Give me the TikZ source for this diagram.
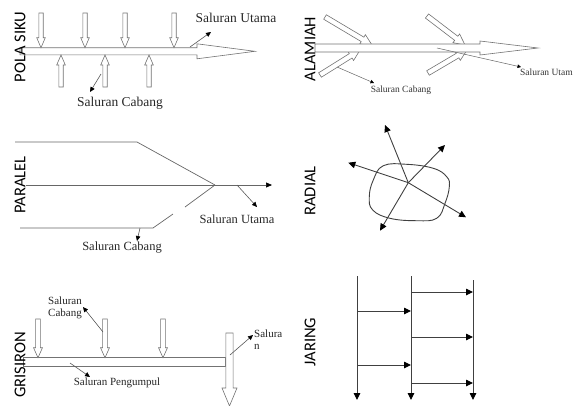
\documentclass[tikz,border=0pt]{standalone}
\usepackage{fontspec}
\setmainfont{Liberation Serif}
\newfontfamily\sidefont{Carlito}
\usetikzlibrary{calc,arrows.meta}

\tikzset{
  chan/.style={draw=black!55, line width=0.6pt, fill=white, line join=miter},
  pipe/.style={draw=black!60, line width=0.7pt},
  radline/.style={draw=black!75, line width=0.9pt},
  ptr/.style={draw=black!65, line width=0.6pt, -{Triangle[length=5pt,width=4.5pt,color=black]}},
  smallptr/.style={draw=black!60, line width=0.5pt, -{Triangle[length=3.5pt,width=3.5pt,color=black]}},
  flow/.style={radline, -{Triangle[length=7pt,width=6.5pt,color=black]}},
  side/.style={font=\sidefont\fontsize{16.5}{16.5}\selectfont, rotate=90, inner sep=0pt},
  lblbig/.style={font=\fontsize{13.5}{14}\selectfont, inner sep=0pt, text=black!85},
  lblmid/.style={font=\fontsize{12.5}{13}\selectfont, inner sep=0pt, text=black!85},
  lblsml/.style={font=\fontsize{11}{12}\selectfont, inner sep=0pt, text=black!85, align=left},
  lbltiny/.style={font=\fontsize{9.5}{10}\selectfont, inner sep=0pt, text=black!80},
}

% hollow block arrow: from, to, shaft half width, head half width, head length
\newcommand\harrow[5]{%
  \coordinate (ha0) at (#1);
  \coordinate (ha1) at (#2);
  \coordinate (hab) at ($(ha1)!#5!(ha0)$);
  \draw[chan] ($(ha0)!#3!90:(ha1)$) -- ($(hab)!#3!-90:(ha0)$)
    -- ($(hab)!#4!-90:(ha0)$) -- (ha1) -- ($(hab)!#4!90:(ha0)$)
    -- ($(hab)!#3!90:(ha0)$) -- ($(ha0)!#3!-90:(ha1)$) -- cycle;
}

\begin{document}
\begin{tikzpicture}[x=1pt,y=-1pt]
\useasboundingbox (0,0) rectangle (575,405);

% ---------------- POLA SIKU ----------------
\harrow{20,51.3}{255,51.3}{3.6pt}{7.5pt}{58pt}
\foreach \x in {41,85,125,174} { \harrow{\x,13}{\x,47.7}{2.2pt}{4.3pt}{10pt} }
\foreach \x in {61,105,149} { \harrow{\x,87}{\x,55}{2.2pt}{4.3pt}{10pt} }
\node[side] (lsiku) at (20,47) {POLA SIKU};
\node[lblbig] (utama1) at (236,18) {Saluran Utama};
\node[lblbig] (cabang1) at (120,103) {Saluran Cabang};
\coordinate (u1a) at (190,47);
\coordinate (u1b) at (211,32);
\draw[ptr] (u1a) -- (u1b);
\coordinate (c1a) at (101,74);
\coordinate (c1b) at (90,92);
\draw[ptr] (c1a) -- (c1b);

% ---------------- ALAMIAH ----------------
% branches first, the main channel is laid over their tips
\harrow{325,17}{372,45}{2.6pt}{5.5pt}{11pt}
\harrow{427,16}{465,45}{2.6pt}{5.5pt}{11pt}
\harrow{320,75}{360,50}{2.6pt}{5.5pt}{11pt}
\harrow{428,73}{467,50}{2.6pt}{5.5pt}{11pt}
\harrow{315,48}{538,48}{4pt}{7pt}{58pt}
\node[side] (lalam) at (310,49) {ALAMIAH};
\node[lbltiny] (cabang2) at (401,90) {Saluran Cabang};
\node[lbltiny, anchor=west] (utama2) at (520,72) {Saluran Utam};
\coordinate (c2a) at (337,67);
\coordinate (c2b) at (374,83);
\draw[smallptr] (c2a) -- (c2b);
\coordinate (u2a) at (437,48);
\coordinate (u2b) at (521,67);
\draw[smallptr] (u2a) -- (u2b);

% ---------------- PARALEL ----------------
\coordinate (pjoin) at (215,185);
\draw[pipe] (15,142) -- (137,142) -- (pjoin);
\draw[pipe] (20,228) -- (153,228) -- (173,214);
\draw[pipe] (185,207) -- (pjoin);
\coordinate (pstart) at (26,185);
\coordinate (pend) at (272,185);
\draw[pipe, -{Triangle[length=6pt,width=5pt,color=black]}] (pstart) -- (pend);
\node[side] (lpar) at (20,185) {PARALEL};
\node[lblmid] (utama3) at (237,219) {Saluran Utama};
\node[lblmid] (cabang3) at (122,248) {Saluran Cabang};
\coordinate (u3a) at (237,185);
\coordinate (u3b) at (257,207);
\draw[ptr] (u3a) -- (u3b);
\coordinate (c3a) at (140,228);
\coordinate (c3b) at (137,241);
\draw[ptr] (c3a) -- (c3b);

% ---------------- RADIAL ----------------
\draw[radline] plot[smooth cycle, tension=0.7] coordinates {
  (383.3,165.7) (406.7,164.3) (433.3,168.3) (446.7,176.7) (449.3,186.7)
  (445,203.3) (436.7,218.3) (416.7,220.7) (390,218.3) (372.7,210)
  (369.3,196.7) (373.3,180)};
\coordinate (rc) at (408.3,182.7);
\coordinate (r1) at (385,125);
\coordinate (r2) at (445,145);
\coordinate (r3) at (348.3,162.7);
\coordinate (r4) at (466,217.3);
\coordinate (r5) at (380,230.7);
\foreach \t in {r1,r2,r3,r4,r5} { \draw[flow] (rc) -- (\t); }
\node[side] (lrad) at (310,191) {RADIAL};

% ---------------- GRISIRON ----------------
\draw[chan] (23,357.7) rectangle (225,366);
\harrow{229.5,333}{229.5,406}{3.6pt}{7.5pt}{18pt}
\foreach \x in {38,105,163} { \harrow{\x,319}{\x,357.7}{2.4pt}{4.5pt}{10pt} }
\node[side] (lgris) at (20,365) {GRISIRON};
\node[lblsml, anchor=north west] (cabang5) at (48,297) {Saluran\\Cabang};
\node[lblsml, anchor=north west] (outlet5) at (254,330) {Salura\\n};
\node[lblsml] (kumpul5) at (117,383) {Saluran Pengumpul};
\coordinate (c5a) at (103,332);
\coordinate (c5b) at (83,307);
\draw[ptr] (c5a) -- (c5b);
\coordinate (o5a) at (230,355);
\coordinate (o5b) at (253,335);
\draw[ptr] (o5a) -- (o5b);
\coordinate (k5a) at (70,363);
\coordinate (k5b) at (90,377);
\draw[ptr] (k5a) -- (k5b);

% ---------------- JARING ----------------
\coordinate (ja) at (357,276);
\coordinate (jb) at (411,276);
\coordinate (jc) at (473,280);
\foreach \c in {ja,jb,jc} { \draw[flow] (\c) -- (\c |- 0,400); }
\foreach \y in {311,365} { \draw[flow] (ja |- 0,\y) -- (jb |- 0,\y); }
\foreach \y in {292,337,383} { \draw[flow] (jb |- 0,\y) -- (jc |- 0,\y); }
\node[side] (ljar) at (310,342) {JARING};
\end{tikzpicture}
\end{document}
